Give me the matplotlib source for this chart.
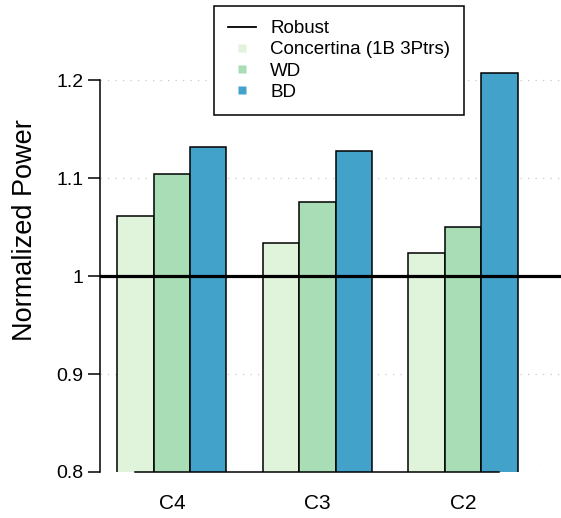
import matplotlib
matplotlib.use('Agg')
import matplotlib.pyplot as plt
from matplotlib.lines import Line2D

plt.rcParams['font.family'] = ['Liberation Sans', 'DejaVu Sans']

# data
configs = ['C4', 'C3', 'C2']
series = ['Concertina (1B 3Ptrs)', 'WD', 'BD']
concertina = [1.061, 1.034, 1.0235]
wd = [1.104, 1.076, 1.050]
bd = [1.132, 1.128, 1.208]
robust = 1.0
yticks = [0.8, 0.9, 1.0, 1.1, 1.2]
ytick_labels = ['0.8', '0.9', '1', '1.1', '1.2']
colors = ['#e0f3db', '#a8ddb5', '#43a2ca']

W, H = 561, 518
fig = plt.figure(figsize=(W / 100, H / 100), dpi=100)
# axes: left spine at x=100px, y=0.8 at 472px, top of figure
ax = fig.add_axes([100 / W, (H - 472) / H, 1 - 100 / W, 472 / H])
ax.set_ylim(0.8, 0.8 + 472 / 979)
ax.set_xlim(0.525, 13.19)

# bars like R barplot(beside=TRUE): width 1, one bar gap between groups,
# drawn from 0 and clipped at the bottom of the plot
for g, name in enumerate(configs):
    start = 1 + g * 4
    for s, vals in enumerate([concertina, wd, bd]):
        ax.bar(start + s, vals[g], width=1, align='edge',
               color=colors[s], edgecolor='black', linewidth=1.1, zorder=2)

# dotted grid
for y in yticks:
    ax.axhline(y, color='#c8c8c8', linestyle=(0, (1, 5)), linewidth=0.9, zorder=1)

# robust baseline
ax.axhline(robust, color='black', linewidth=2.3, zorder=3)

# x axis line (no ticks)
ax.plot([1.5, 11.5], [0.8, 0.8], color='black', linewidth=1.1, clip_on=False, zorder=4)

for sp in ['top', 'right', 'bottom']:
    ax.spines[sp].set_visible(False)
ax.spines['left'].set_bounds(0.8, 1.2)
ax.spines['left'].set_linewidth(1.1)

ax.set_yticks(yticks)
ax.set_yticklabels(ytick_labels, fontsize=14)
ax.tick_params(axis='y', length=8.5, width=1.1, pad=3.5)
ax.set_xticks([2.5, 6.5, 10.5])
ax.set_xticklabels(configs, fontsize=15)
ax.tick_params(axis='x', length=0, pad=16)

fig.text(25 / W, 1 - 230 / H, 'Normalized Power', rotation=90,
         ha='center', va='center', fontsize=19.5)

handles = [Line2D([], [], color='black', linewidth=1.3)]
for c in colors:
    handles.append(Line2D([], [], linestyle='none', marker='s', markersize=6,
                          markerfacecolor=c, markeredgecolor='none'))
leg = ax.legend(handles, ['Robust'] + series, loc='upper left',
                bbox_to_anchor=(214 / W, 1 - 6 / H), bbox_transform=fig.transFigure,
                borderaxespad=0, fontsize=13.5, frameon=True, fancybox=False,
                edgecolor='black', framealpha=1, handlelength=1.5,
                handletextpad=0.75, labelspacing=0.22, borderpad=0.75)
leg.get_frame().set_linewidth(1.1)
leg.set_zorder(5)

fig.savefig('out.png', dpi=100)
